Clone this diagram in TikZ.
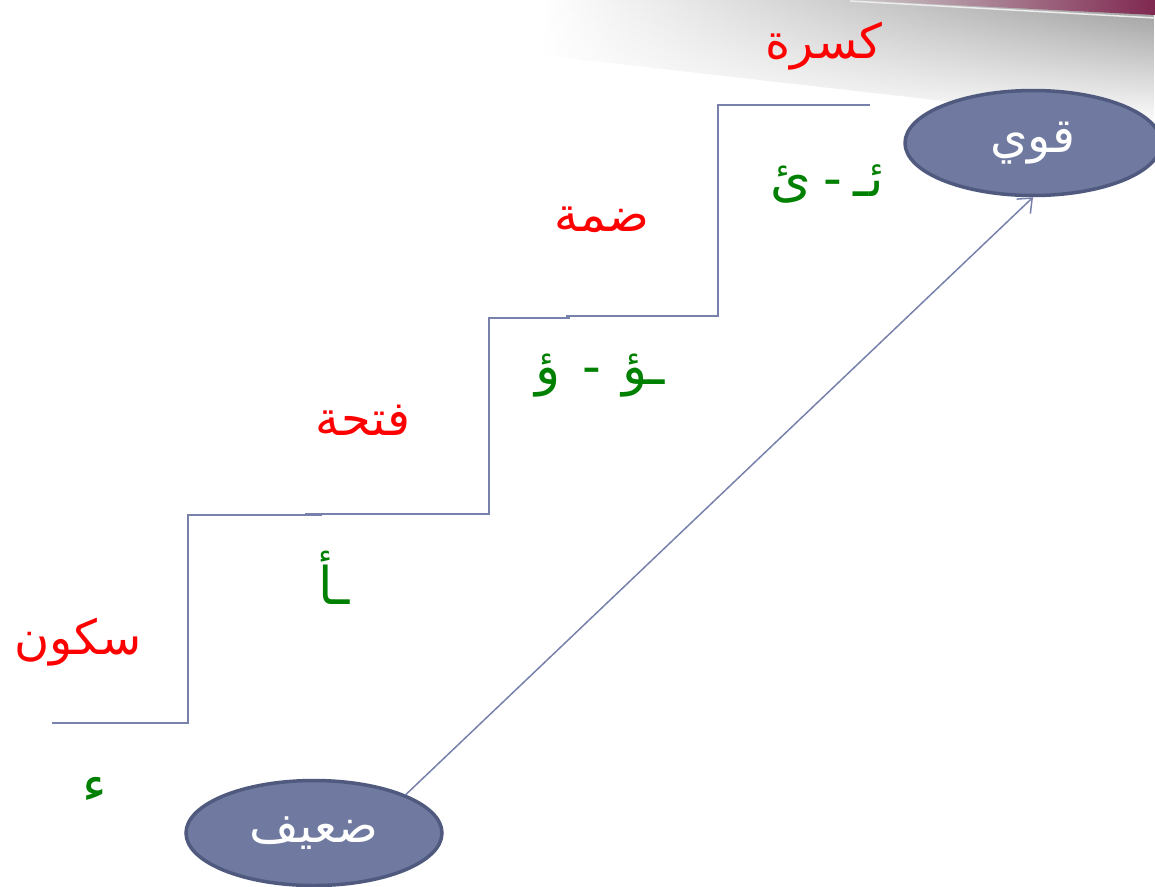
\documentclass[tikz,border=0pt]{standalone}
\usepackage{fontspec}
\newfontfamily\arabicfont[Script=Arabic]{DejaVu Sans}
\TeXXeTstate=1
\usetikzlibrary{arrows.meta,shapes.geometric,fadings}
\definecolor{stairline}{RGB}{120,128,172}
\definecolor{ovalfill}{RGB}{112,122,160}
\definecolor{ovaldraw}{RGB}{80,90,126}
\definecolor{hamzagreen}{RGB}{0,128,0}
\definecolor{barmaroon}{RGB}{128,40,80}
\tikzfading[name=bar fade, top color=transparent!0, bottom color=transparent!100]

\begin{document}
\begin{tikzpicture}[x=1pt,y=1pt,yscale=-1,xscale=1,
  oval/.style = {draw=ovaldraw, line width=3.5pt, ellipse, fill=ovalfill,
    minimum width=256pt, minimum height=105pt, inner sep=0pt,
    text=white, font=\arabicfont\fontsize{48}{52}\selectfont},
  harakah/.style = {text=red, font=\arabicfont\fontsize{48}{52}\selectfont},
  hamza/.style = {text=hamzagreen, font=\arabicfont\fontsize{52}{56}\selectfont},
  stair/.style = {draw=stairline, line width=1.5pt},
  >={Straight Barb[length=12pt,width=20pt]}]
  \useasboundingbox (0,0) rectangle (1155,886);
  % slide decoration
  \shade[left color=white, middle color=gray!75, right color=gray!80, path fading=bar fade] (540,0) -- (1155,0) -- (1155,125) -- (540,55) -- cycle;
  \shade[left color=gray!40, right color=barmaroon] (850,0) -- (1155,0) -- (1155,15) -- cycle;
  \draw[white!85!gray, line width=1.5pt] (850,1) -- (1155,18);

  % the stairs
  \draw[stair] (52,723) -- (188,723) -- (188,515) -- (322,515);
  \draw[stair] (305,514) -- (489,514) -- (489,318) -- (570,318);
  \draw[stair] (566,316) -- (718,316) -- (718,105) -- (870,105);

  \node[oval] (strong) at (1033,143) {\beginR قوي\endR};
  \node[oval] (weak) at (314,833) {\beginR ضعيف\endR};
  \draw[->, draw=stairline, line width=1.5pt] (weak.north east) -- (strong.south);

  \node[harakah] (sukun) at (78,642) {\beginR سكون\endR};
  \node[harakah] (fatha) at (363,420) {\beginR فتحة\endR};
  \node[harakah] (damma) at (602,220) {\beginR ضمة\endR};
  \node[harakah] (kasra) at (824,46) {\beginR كسرة\endR};

  \node[hamza] (h1) at (95,790) {\beginR ء\endR};
  \node[hamza] (h2) at (334,578) {\beginR ـأ\endR};
  \node[hamza] (h3) at (600,376) {\beginR ـؤ\hspace{22pt}-\hspace{22pt}ؤ\endR};
  \node[hamza] (h4) at (827,184) {\beginR ئـ\hspace{12pt}-\hspace{12pt}ئ\endR};
\end{tikzpicture}
\end{document}
